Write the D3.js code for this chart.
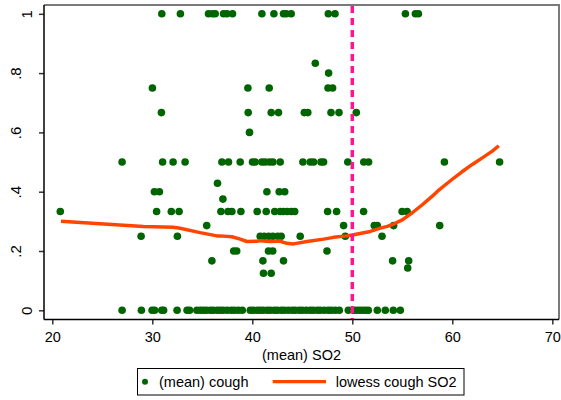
<!DOCTYPE html>
<html><head><meta charset="utf-8">
<script src="https://cdn.jsdelivr.net/npm/d3@7"></script>
<style>
html,body{margin:0;padding:0;background:#fff;}
svg{display:block;font-family:"Liberation Sans",Arial,sans-serif;}
</style></head>
<body>
<svg id="chart" width="561" height="400"></svg>
<script>
// ---- data: (mean) cough by (mean) SO2 ----
const cough1 = [30.95,32.81,35.62,36.02,36.29,37.12,37.46,38.02,40.96,42.16,43.12,43.39,43.89,47.60,48.27,55.31,56.31,56.61];
const cough833 = [46.30];
const cough8 = [47.63];
const cough75 = [30.01,39.56,41.69,47.57,48.03];
const cough667 = [30.91,39.59,41.89,42.62,45.20,45.55,47.87,48.67,50.40];
const cough6 = [39.72];
const cough5 = [26.98,31.03,32.08,33.28,36.96,37.62,38.79,40.02,40.29,40.96,41.29,41.72,42.06,42.79,45.06,45.80,46.13,46.87,47.13,49.55,51.15,51.63,59.21,64.73];
const cough429 = [36.52];
const cough4 = [30.21,30.71,41.46,42.69,43.24];
const cough375 = [37.06];
const cough333 = [20.80,30.43,31.90,32.68,36.86,37.57,37.96,38.86,40.49,41.39,42.24,42.79,43.09,43.49,43.92,44.24,47.53,48.43,51.13,54.98,55.48];
const cough286 = [35.44,49.13,52.20,52.50,54.13,58.74];
const cough25 = [28.88,32.51,40.79,41.19,41.64,42.06,42.54,42.89,44.79,49.30,52.97];
const cough2 = [38.14,38.44,41.62,42.04,47.47];
const cough167 = [35.96,41.06,43.12,54.03,55.64];
const cough143 = [55.54];
const cough125 = [41.12,41.89];
const cough0 = [26.98,28.91,29.98,30.23,30.95,31.13,32.48,33.48,33.73,34.46,34.8,
  35.1,35.4,35.8,36.1,36.5,36.8,37.1,37.5,37.9,38.2,38.6,39.0,39.8,40.1,40.5,40.8,41.1,41.5,41.8,
  42.2,42.5,42.9,43.2,43.6,44.0,44.3,44.7,45.0,45.4,45.8,46.1,46.5,46.8,47.2,47.6,47.9,48.3,48.7,
  49.6,50.1,50.4,50.7,51.0,51.3,51.6,52.5,53.3,54.1,54.8];

const groups = [
  [1, cough1],[0.8333, cough833],[0.8, cough8],[0.75, cough75],[0.6667, cough667],[0.6, cough6],
  [0.5, cough5],[0.4286, cough429],[0.4, cough4],[0.375, cough375],[0.3333, cough333],
  [0.2857, cough286],[0.25, cough25],[0.2, cough2],[0.1667, cough167],[0.1429, cough143],
  [0.125, cough125],[0, cough0]
];

// lowess cough SO2
const lowessX = [20.87,24.77,29.11,32.11,32.78,34.78,36.46,36.79,37.96,38.79,39.46,40.46,40.79,41.12,41.79,42.46,42.79,43.09,43.46,44.12,45.47,47.13,48.13,49.47,50.13,51.80,52.80,53.5,54.13,55.0,56.0,57.0,58.0,58.5,59.0,60.0,61.0,62.0,63.0,64.0,64.65];
const lowessY = [0.300,0.292,0.283,0.280,0.277,0.262,0.251,0.251,0.248,0.240,0.232,0.233,0.235,0.234,0.232,0.233,0.234,0.229,0.226,0.224,0.232,0.240,0.246,0.251,0.255,0.266,0.277,0.283,0.291,0.305,0.329,0.356,0.385,0.401,0.415,0.442,0.468,0.492,0.514,0.537,0.555];

const xTicks = [20,30,40,50,60,70];
const yTicks = [0,0.2,0.4,0.6,0.8,1];
const yTickLabels = ["0",".2",".4",".6",".8","1"];
const refLine = 50;
const xTitle = "(mean) SO2";
const legendLabels = ["(mean) cough","lowess cough SO2"];

// ---- drawing ----
const svg = d3.select("#chart");
const x = d3.scaleLinear().domain([20,70]).range([52.3,552.3]);
const y = d3.scaleLinear().domain([0,1]).range([310.3,13.8]);
const L = 44, R = 559, T = 5, B = 319.5;

// plot region outline (top/right gray)
svg.append("path").attr("d",`M${L},${T}H${R}V${B}`).attr("fill","none").attr("stroke","#7a7a7a").attr("stroke-width",2);

// points
const pts = [];
groups.forEach(([v, xs]) => xs.forEach(s => pts.push([s, v])));
svg.append("g").selectAll("circle").data(pts).join("circle")
  .attr("cx", d => x(d[0])).attr("cy", d => y(d[1])).attr("r", 3.8).attr("fill", "#006400");

// lowess line
const line = d3.line().x(d => x(d[0])).y(d => y(d[1]));
svg.append("path").datum(lowessX.map((v,i)=>[v, lowessY[i]]))
  .attr("d", line).attr("fill","none").attr("stroke","#ff4500").attr("stroke-width",3.5)
  .attr("stroke-linejoin","round");

// reference line
svg.append("line").attr("x1", x(refLine)).attr("x2", x(refLine)).attr("y1", T+1).attr("y2", B)
  .attr("stroke","#ff1493").attr("stroke-width",3.5).attr("stroke-dasharray","7,5");

// x axis
const xAxis = d3.axisBottom(x).tickValues(xTicks).tickSize(5).tickPadding(4).tickFormat(d3.format("d"));
const gx = svg.append("g").attr("transform", `translate(0,${B})`).call(xAxis);
gx.select(".domain").remove();
gx.append("line").attr("x1", L).attr("x2", R).attr("stroke","#000").attr("stroke-width",1.5);
gx.selectAll(".tick line").attr("stroke","#333").attr("stroke-width",1.5);
gx.selectAll(".tick text").attr("fill","#000").style("font-size","14.5px").attr("dy","0.9em");

// y axis
const yAxis = d3.axisLeft(y).tickValues(yTicks).tickSize(5).tickFormat((d,i)=>yTickLabels[i]);
const gy = svg.append("g").attr("transform", `translate(${L},0)`).call(yAxis);
gy.select(".domain").remove();
gy.append("line").attr("y1", T).attr("y2", B).attr("stroke","#000").attr("stroke-width",1.5);
gy.selectAll(".tick line").attr("stroke","#333").attr("stroke-width",1.5);
gy.selectAll(".tick text").attr("fill","#000").style("font-size","15px")
  .attr("x", null).attr("dy", null)
  .attr("text-anchor","middle")
  .attr("transform",(d,i)=>`translate(${yTickLabels[i].length > 1 ? -23 : -12},0) rotate(-90)`);

// x title
svg.append("text").attr("x", (L+R)/2).attr("y", 360).attr("text-anchor","middle")
  .style("font-size","14.5px").attr("fill","#000").text(xTitle);

// legend
const lg = svg.append("g");
lg.append("rect").attr("x",137.5).attr("y",368.5).attr("width",326.5).attr("height",26.5)
  .attr("fill","#fff").attr("stroke","#000").attr("stroke-width",1);
lg.append("circle").attr("cx",145).attr("cy",381.7).attr("r",3).attr("fill","#006400");
lg.append("text").attr("x",159).attr("y",386.8).style("font-size","14.5px").text(legendLabels[0]);
lg.append("line").attr("x1",272.7).attr("x2",326).attr("y1",381.7).attr("y2",381.7)
  .attr("stroke","#ff4500").attr("stroke-width",3.2);
lg.append("text").attr("x",335.7).attr("y",386.8).style("font-size","14.5px").text(legendLabels[1]);
</script>
</body></html>
